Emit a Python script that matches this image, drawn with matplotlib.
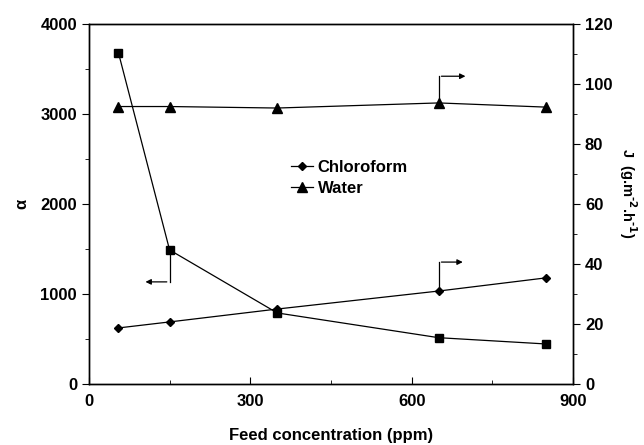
import matplotlib
matplotlib.use("Agg")
import matplotlib.pyplot as plt

plt.rcParams['font.family'] = ['Liberation Sans', 'DejaVu Sans']
plt.rcParams['font.weight'] = 'bold'
plt.rcParams['axes.labelweight'] = 'bold'
plt.rcParams['mathtext.default'] = 'bf'

# feed concentration (ppm)
conc = [55, 150, 350, 650, 850]
# separation factor alpha (left axis)
alpha = [3680, 1490, 790, 515, 445]
# flux J (right axis)
j_chloroform = [18.7, 20.7, 25.0, 31.0, 35.4]
j_water = [92.5, 92.5, 92.0, 93.7, 92.3]

fig = plt.figure(figsize=(6.44, 4.45), dpi=100)
ax = fig.add_axes([0.138, 0.137, 0.752, 0.809])
ax2 = ax.twinx()

ax.plot(conc, alpha, color='black', lw=0.9, marker='s', ms=5.5)
ax2.plot(conc, j_chloroform, color='black', lw=0.9, marker='D', ms=4.5, label='Chloroform')
ax2.plot(conc, j_water, color='black', lw=0.9, marker='^', ms=7.5, label='Water')

ax.set_xlim(0, 900)
ax.set_ylim(0, 4000)
ax2.set_ylim(0, 120)
ax.set_xticks([0, 300, 600, 900])
ax.set_xticks([150, 450, 750], minor=True)
ax.set_yticks([0, 1000, 2000, 3000, 4000])
ax.set_yticks([500, 1500, 2500, 3500], minor=True)
ax2.set_yticks([0, 20, 40, 60, 80, 100, 120])
ax2.set_yticks([10, 30, 50, 70, 90, 110], minor=True)

ax.tick_params(axis='x', which='both', direction='in', top=False, labelsize=12, pad=7)
ax.tick_params(axis='x', which='major', length=5)
ax.tick_params(axis='x', which='minor', length=3)
ax.tick_params(axis='y', which='major', direction='out', length=5, labelsize=12)
ax.tick_params(axis='y', which='minor', direction='out', length=3)
ax2.tick_params(axis='y', which='major', direction='out', length=5, labelsize=12)
ax2.tick_params(axis='y', which='minor', direction='out', length=3)
for lab in ax.get_xticklabels() + ax.get_yticklabels() + ax2.get_yticklabels():
    lab.set_fontweight('bold')

for a in (ax, ax2):
    for s in a.spines.values():
        s.set_linewidth(1.0)

ax.set_xlabel('Feed concentration (ppm)', fontsize=12, fontweight='bold', labelpad=14)
ax.set_ylabel('α', fontsize=12, fontweight='bold', labelpad=8)
ax2.set_ylabel(r'J  (g.m$^{\text{-2}}$.h$^{\text{-1}}$)', fontsize=10.5, fontweight='bold',
               rotation=270)
ax2.yaxis.set_label_coords(1.135, 0.53)

# axis-indicator arrows
arrow_kw = dict(arrowstyle='-|>', color='black', lw=0.9, mutation_scale=8)
ax.plot([150, 150], [1490, 1135], color='black', lw=0.9)
ax.annotate('', xy=(100, 1135), xytext=(150, 1135), arrowprops=arrow_kw)
ax.plot([650, 650], [3125, 3420], color='black', lw=0.9)
ax.annotate('', xy=(705, 3420), xytext=(650, 3420), arrowprops=arrow_kw)
ax.plot([650, 650], [1035, 1355], color='black', lw=0.9)
ax.annotate('', xy=(700, 1355), xytext=(650, 1355), arrowprops=arrow_kw)

ax2.legend(loc='upper left', bbox_to_anchor=(0.40, 0.645), frameon=False,
           prop={'size': 12, 'weight': 'bold'}, handlelength=1.3, handletextpad=0.3,
           borderpad=0, labelspacing=0.35)

fig.savefig('out.png', dpi=100)
